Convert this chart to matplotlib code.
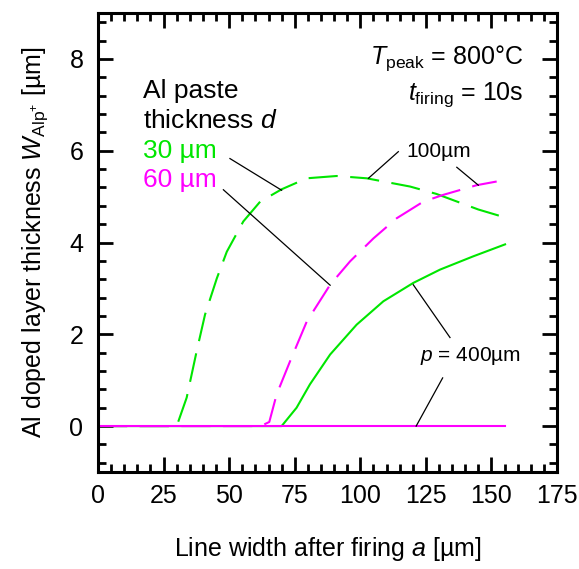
import matplotlib
matplotlib.use("Agg")
import matplotlib.pyplot as plt
from matplotlib.ticker import MultipleLocator

plt.rcParams['font.family'] = ['Liberation Sans', 'DejaVu Sans']
plt.rcParams['mathtext.fontset'] = 'custom'
plt.rcParams['mathtext.rm'] = 'Liberation Sans'
plt.rcParams['mathtext.it'] = 'Liberation Sans:italic'

GREEN = '#00e600'
MAGENTA = '#ff00ff'

# d = 30 um paste, p = 100 um pitch
a_30_100 = [0, 30, 33.8, 37.6, 40.8, 45.3, 49.1, 55.4, 61.8, 70, 79.6, 91,
            102.4, 119, 129, 137, 145, 155]
w_30_100 = [0, 0, 0.62, 1.63, 2.43, 3.22, 3.80, 4.46, 4.89, 5.16, 5.40, 5.45,
            5.40, 5.22, 5.06, 4.89, 4.72, 4.55]

# d = 30 um paste, p = 400 um pitch
a_30_400 = [0, 70, 75.7, 80.8, 88.5, 98.6, 108.8, 120.2, 130.4, 143.1, 155.2]
w_30_400 = [0, 0, 0.40, 0.91, 1.56, 2.21, 2.72, 3.12, 3.41, 3.70, 3.96]

# d = 60 um paste, p = 100 um pitch
a_60_100 = [0, 62, 65.3, 68.1, 73.2, 79.6, 88.5, 96.1, 105, 113.9, 124,
            131.7, 144.4, 152]
w_60_100 = [0, 0, 0.09, 0.69, 1.41, 2.28, 3.08, 3.59, 4.09, 4.53, 4.89,
            5.04, 5.25, 5.33]

# d = 60 um paste, p = 400 um pitch
a_60_400 = [0, 155]
w_60_400 = [0, 0]

fig = plt.figure(figsize=(5.79, 5.69), dpi=100)
ax = fig.add_axes([0.1693, 0.1705, 0.7927, 0.8065])

dash = (14, 6)
ax.plot(a_30_100, w_30_100, color=GREEN, lw=1.5, dashes=dash)
ax.plot(a_30_400, w_30_400, color=GREEN, lw=1.5)
ax.plot(a_60_100, w_60_100, color=MAGENTA, lw=1.5, dashes=dash)
ax.plot(a_60_400, w_60_400, color=MAGENTA, lw=1.5)

ax.set_xlim(0, 175)
ax.set_ylim(-1, 9)
ax.xaxis.set_major_locator(MultipleLocator(25))
ax.xaxis.set_minor_locator(MultipleLocator(5))
ax.yaxis.set_major_locator(MultipleLocator(2))
ax.yaxis.set_minor_locator(MultipleLocator(0.4))
ax.tick_params(which='both', direction='in', top=True, right=True, width=2)
ax.tick_params(which='major', length=11, labelsize=18)
ax.tick_params(axis='x', which='major', pad=9)
ax.tick_params(axis='y', which='major', pad=10.5)
ax.tick_params(which='minor', length=5.5)
for s in ax.spines.values():
    s.set_linewidth(2.2)

ax.set_xlabel('Line width after firing $a$ [µm]', fontsize=18, labelpad=19)
ax.set_ylabel(r'Al doped layer thickness $W_{\rm Alp^{+}}$ [µm]',
              fontsize=18, labelpad=14)

# legend text
ax.text(17.3, 7.14, 'Al paste', fontsize=19)
ax.text(17.3, 6.50, 'thickness $d$', fontsize=19)
ax.text(17.3, 5.85, '30 µm', fontsize=19, color=GREEN)
ax.text(17.3, 5.22, '60 µm', fontsize=19, color=MAGENTA)

ax.text(162.2, 7.90, r'$T_{\rm peak}$ = 800°C', fontsize=18, ha='right')
ax.text(162.2, 7.12, r'$t_{\rm firing}$ = 10s', fontsize=18, ha='right')

ax.text(117.7, 5.87, '100µm', fontsize=15)
ax.text(122.8, 1.41, '$p$ = 400µm', fontsize=15)

# leader lines
lines = [
    ([50.3, 70.0], [5.83, 5.14]),
    ([47.8, 88.5], [5.15, 3.07]),
    ([114.5, 103.1], [5.98, 5.40]),
    ([136.8, 145.0], [5.64, 5.25]),
    ([134.2, 120.2], [1.93, 3.08]),
    ([131.4, 121.3], [1.05, 0.0]),
]
for xs, ys in lines:
    ax.plot(xs, ys, color='black', lw=0.9)

fig.savefig('out.png', dpi=100)
